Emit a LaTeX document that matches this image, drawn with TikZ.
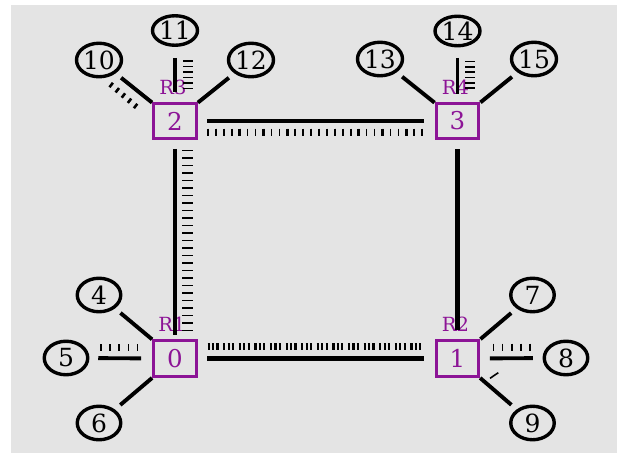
\documentclass[tikz,border=0pt]{standalone}
\usepackage{fontspec}
\setmainfont{DejaVu Serif}
\usetikzlibrary{shapes.geometric}
\definecolor{canvas}{RGB}{228,228,228}
\definecolor{routerpurple}{RGB}{140,20,150}

\begin{document}
\begin{tikzpicture}[x=1pt,y=-1pt,
  host/.style={ellipse, draw=black, line width=3.4pt, minimum width=43.5pt,
    minimum height=33.5pt, inner sep=0pt, font=\fontsize{25}{25}\selectfont},
  hostflat/.style={host, minimum height=29.5pt},
  router/.style={rectangle, draw=routerpurple, line width=3.4pt, minimum width=42.5pt,
    minimum height=35.5pt, inner sep=0pt, text=routerpurple,
    font=\fontsize{24.5}{24.5}\selectfont},
  rlab/.style={text=routerpurple, inner sep=0pt, font=\fontsize{19.5}{19.5}\selectfont},
  trunk/.style={line width=4.6pt},
  access/.style={line width=3.9pt},
  pkt/.style={line width=1.6pt},
  pktbold/.style={line width=2.6pt},
  burst/.style={line width=6.5pt, dash pattern=on 2.3pt off 2.1pt on 2.3pt off 2.1pt on 2.3pt off 4.5pt}]

% canvas
\fill[white] (0,0) rectangle (618,453);
\fill[canvas] (11,5) rectangle (617,453);
\useasboundingbox (0,0) rectangle (618,453);

% routers
\node[router] (r0) at (175,358.5) {0};
\node[router] (r1) at (457.5,358.5) {1};
\node[router] (r2) at (175,121) {2};
\node[router] (r3) at (457.5,121) {3};

% router names
\node[rlab] (l0) at ([shift={(-3,-34.5)}]r0.center) {R1};
\node[rlab] (l1) at ([shift={(-2,-34.5)}]r1.center) {R2};
\node[rlab] (l2) at ([shift={(-2,-34)}]r2.center) {R3};
\node[rlab] (l3) at ([shift={(-2,-34)}]r3.center) {R4};

% hosts
\node[host] (h4) at (99,295) {4};
\node[host] (h5) at (66,358) {5};
\node[host] (h6) at (99,423) {6};
\node[host] (h7) at (532.5,295) {7};
\node[host] (h8) at (566,358) {8};
\node[host] (h9) at (532.5,423) {9};
\node[host] (h10) at (99,60) {10};
\node[hostflat] (h11) at (175,30.5) {11};
\node[host] (h12) at (251,60) {12};
\node[host] (h13) at (380,59) {13};
\node[hostflat] (h14) at (457.5,31) {14};
\node[host] (h15) at (534,59) {15};

% core links
\draw[trunk, shorten <=8.5pt, shorten >=4pt] (r2) -- (r0);
\draw[trunk, shorten <=8.8pt, shorten >=9pt] (r3) -- (r1);
\draw[trunk, shorten <=9.3pt, shorten >=11pt] (r2) -- (r3);
\draw[trunk, shorten <=9.3pt, shorten >=11pt] (r0) -- (r1);

% access links
\draw[access, shorten <=7pt] (h10) -- (r2);
\draw[access, shorten <=11pt, shorten >=9.5pt] (h11) -- (r2);
\draw[access, shorten <=7pt] (h12) -- (r2);
\draw[access, shorten <=7pt] (h13) -- (r3);
\draw[access, shorten <=10.5pt, shorten >=7.5pt] (h14) -- (r3);
\draw[access, shorten <=7pt] (h15) -- (r3);
\draw[access, shorten <=7pt] (h4) -- (r0);
\draw[access, shorten <=8.8pt, shorten >=11pt] (h5) -- (r0);
\draw[access, shorten <=7pt] (h6) -- (r0);
\draw[access, shorten <=7pt] (h7) -- (r1);
\draw[access, shorten <=9.8pt, shorten >=9.5pt] (h8) -- (r1);
\draw[access, shorten <=7pt] (h9) -- (r1);

% packets in flight (y axis points down, so a "/" stroke rises to the right with negative y)
\foreach \y in {61,66.5,72,77.5,83,88.5}
  \draw[pkt] (183,\y) -- (192.5,\y);
\foreach \y in {61.5,66.8,72,77.3,82.7,88.2}
  \draw[pkt] (465,\y) -- (475,\y);
\foreach \i in {0,...,4}
  \draw[pktbold, shift={(111.2+6.1*\i,85+5.25*\i)}] (-1.7,2.2) -- (1.7,-2.2);
\foreach \i in {0,2,...,24}
  \draw[pkt] (182,150.5+7.5*\i) -- (192.5,150.5+7.5*\i);
\foreach \i in {1,3,...,23}
  \draw[pktbold] (182,150.5+7.5*\i) -- (192.5,150.5+7.5*\i);
\foreach \i in {0,...,27}
  \draw[pkt] (208+7.93*\i,128.5) -- (208+7.93*\i,136);
\foreach \i in {1,4,...,27}
  \draw[pktbold] (208+7.93*\i,128.5) -- (208+7.93*\i,136);
\draw[burst] (207.5,346.7) -- (423,346.7);
\foreach \x in {100.7,110,119.2,128.3,137.3}
  \draw[pkt] (\x,344) -- (\x,350.7);
\foreach \x in {493.3,502.5,511.7,521,530}
  \draw[pkt] (\x,343.5) -- (\x,350.7);
\draw[pkt] (490,378.3) -- (498.3,372.7);
\end{tikzpicture}
\end{document}
